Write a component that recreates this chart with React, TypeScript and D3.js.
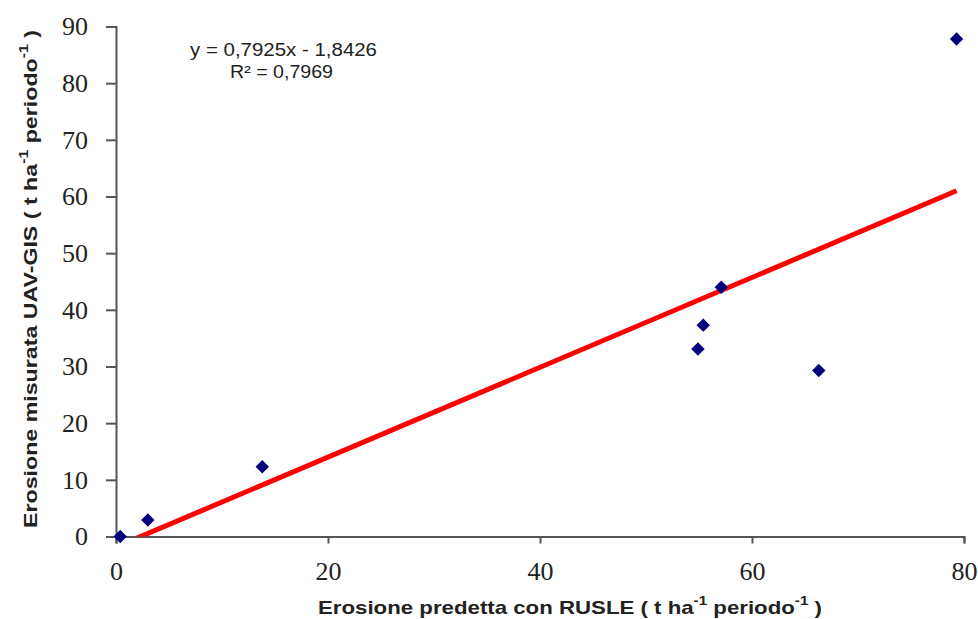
import React, { useRef, useEffect } from 'react';
import * as d3 from 'd3';

// predicted (RUSLE) vs measured (UAV-GIS) erosion
const predicted = [0.4, 3.0, 13.8, 54.9, 55.4, 57.1, 66.3, 79.3];
const measured = [0.0, 2.9, 12.3, 33.1, 37.3, 44.0, 29.3, 87.8];
const xTicks = [0, 20, 40, 60, 80];
const yTicks = [0, 10, 20, 30, 40, 50, 60, 70, 80, 90];
const slope = 0.7925;
const intercept = -1.8426;
const equationLines = ['y = 0,7925x - 1,8426', 'R² = 0,7969'];

export default function App() {
  const ref = useRef<SVGSVGElement>(null);

  useEffect(() => {
    const width = 978;
    const height = 619;
    const margin = { top: 26.5, right: 14, bottom: 82.5, left: 116 };
    const w = width - margin.left - margin.right;
    const h = height - margin.top - margin.bottom;

    const svg = d3.select(ref.current);
    svg.selectAll('*').remove();
    svg.attr('width', width).attr('height', height);

    const g = svg.append('g').attr('transform', `translate(${margin.left},${margin.top})`);

    const x = d3.scaleLinear().domain([0, 80]).range([0, w]);
    const y = d3.scaleLinear().domain([0, 90]).range([h, 0]);

    // clip for trendline
    svg.append('defs').append('clipPath').attr('id', 'plotclip')
      .append('rect').attr('x', 0).attr('y', 0).attr('width', w).attr('height', h);

    // axes
    const axisColor = '#555';
    const yAxis = g.append('g')
      .call(d3.axisLeft(y).tickValues(yTicks).tickSize(10).tickSizeOuter(10).tickPadding(18));
    const xAxis = g.append('g')
      .attr('transform', `translate(0,${h})`)
      .call(d3.axisBottom(x).tickValues(xTicks).tickSize(7).tickSizeOuter(7));
    [xAxis, yAxis].forEach(a => {
      a.select('.domain').attr('stroke', axisColor).attr('stroke-width', 2);
      a.selectAll('.tick line').attr('stroke', axisColor).attr('stroke-width', 2);
      a.selectAll('.tick text')
        .attr('fill', '#222')
        .style('font-family', '"Liberation Serif", "Times New Roman", serif')
        .style('font-size', '26px');
    });
    xAxis.selectAll('.tick text').attr('y', 43.5).attr('dy', 0);

    // trendline
    const x0 = d3.min(predicted)!;
    const x1 = d3.max(predicted)!;
    g.append('line')
      .attr('clip-path', 'url(#plotclip)')
      .attr('x1', x(x0)).attr('y1', y(slope * x0 + intercept))
      .attr('x2', x(x1)).attr('y2', y(slope * x1 + intercept))
      .attr('stroke', '#ff0000')
      .attr('stroke-width', 5);

    // points
    const diamond = d3.symbol().type(d3.symbolDiamond2).size(115);
    g.selectAll('path.pt')
      .data(predicted.map((p, i) => [p, measured[i]]))
      .enter()
      .append('path')
      .attr('class', 'pt')
      .attr('d', diamond)
      .attr('transform', d => `translate(${x(d[0])},${y(d[1])})`)
      .attr('fill', '#00007f');

    // equation
    const eqPos = [[283.5, 56, 187], [281.5, 78, 103]];
    equationLines.forEach((t, i) => {
      svg.append('text')
        .attr('text-anchor', 'middle')
        .attr('x', eqPos[i][0])
        .attr('y', eqPos[i][1])
        .attr('textLength', eqPos[i][2])
        .attr('lengthAdjust', 'spacingAndGlyphs')
        .style('font-family', '"Liberation Sans", Arial, sans-serif')
        .style('font-size', '18px')
        .attr('fill', '#222')
        .text(t);
    });

    // axis titles
    const titleStyle = (sel: d3.Selection<SVGTextElement, unknown, null, undefined>) =>
      sel.attr('text-anchor', 'middle')
        .attr('lengthAdjust', 'spacingAndGlyphs')
        .style('font-family', '"Liberation Sans", Arial, sans-serif')
        .style('font-size', '19px')
        .style('font-weight', 'bold')
        .attr('fill', '#222');

    const addTitle = (el: d3.Selection<SVGTextElement, unknown, null, undefined>, head: string) => {
      el.append('tspan').text(head + ' ( t ha');
      el.append('tspan').attr('dy', -9).style('font-size', '13px').text('-1');
      el.append('tspan').attr('dy', 9).text(' periodo');
      el.append('tspan').attr('dy', -9).style('font-size', '13px').text('-1');
      el.append('tspan').attr('dy', 9).text(' )');
    };

    const xt = svg.append('text').attr('x', 570).attr('y', 614).attr('textLength', 504).call(titleStyle);
    addTitle(xt, 'Erosione predetta con RUSLE');

    const yt = svg.append('text')
      .attr('transform', 'translate(37,279) rotate(-90)')
      .attr('textLength', 498)
      .call(titleStyle);
    addTitle(yt, 'Erosione misurata UAV-GIS');
  }, []);

  return (
    <div style={{ position: 'absolute', left: 0, top: 0, background: '#fff' }}>
      <svg ref={ref} style={{ display: 'block' }}></svg>
    </div>
  );
}
